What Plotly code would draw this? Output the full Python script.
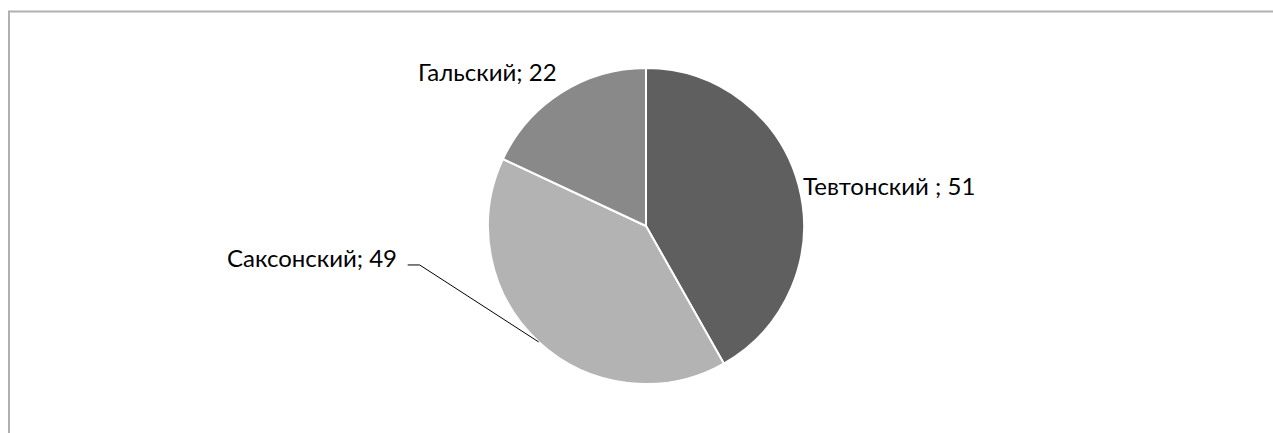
import math
import plotly.graph_objects as go

# ---- data ----
labels = ["Тевтонский ", "Саксонский", "Гальский"]
values = [51, 49, 22]
colors = ["#5f5f5f", "#b3b3b3", "#898989"]

W, H = 1273, 433
CX, CY, R = 646, 226, 158  # pie centre / radius in px

fig = go.Figure(go.Pie(
    labels=labels, values=values, sort=False, direction="clockwise", rotation=0,
    marker=dict(colors=colors, line=dict(color="white", width=2)),
    textinfo="none", hoverinfo="label+value", showlegend=False,
    domain=dict(x=[(CX - R) / W, (CX + R) / W], y=[1 - (CY + R) / H, 1 - (CY - R) / H]),
))

def p(x, y):
    return x / W, 1 - y / H

total = sum(values)
cum = 0
mids = []
for v in values:
    mids.append((cum + v / 2) / total * 2 * math.pi)
    cum += v

def on_circle(a, r):
    return CX + r * math.sin(a), CY - r * math.cos(a)

annotations = []
shapes = []
font = dict(family="Lato, Carlito, 'Open Sans', sans-serif", size=24, color="#000000")

def label(x, y, text, xanchor):
    px, py = p(x, y)
    annotations.append(dict(x=px, y=py, xref="paper", yref="paper", text=text,
                            showarrow=False, xanchor=xanchor, yanchor="middle",
                            font=font, borderpad=0, borderwidth=0))

# Тевтонский
x, y = on_circle(mids[0], R)
label(x + 4, y - 0.5, f"{labels[0]}; {values[0]}", "left")

# Гальский
x, y = on_circle(mids[2], R)
label(x - 4, y - 21.5, f"{labels[2]}; {values[2]}", "right")

# Саксонский with leader line
ex, ey = on_circle(mids[1], R)
lx, ly = ex - 119, ey - 77
for (a, b, c, d) in [(ex, ey, lx, ly), (lx, ly, lx - 12, ly)]:
    x0, y0 = p(a, b)
    x1, y1 = p(c, d)
    shapes.append(dict(type="line", xref="paper", yref="paper", x0=x0, y0=y0, x1=x1, y1=y1,
                       line=dict(color="#000000", width=1)))
label(lx - 23, ly - 7, f"{labels[1]}; {values[1]}", "right")

# chart-area frame (partially cropped)
fx, fy = p(9, 11.5)
shapes.append(dict(type="rect", xref="paper", yref="paper",
                   x0=fx, x1=1.05, y0=-0.05, y1=fy,
                   line=dict(color="#b0b0b0", width=2), fillcolor="rgba(0,0,0,0)", layer="below"))

fig.update_layout(width=W, height=H, margin=dict(l=0, r=0, t=0, b=0),
                  paper_bgcolor="white", plot_bgcolor="white",
                  annotations=annotations, shapes=shapes)
fig.write_html("out.html", config={"displayModeBar": False},
               post_script="document.body.style.margin='0';document.body.style.overflow='hidden';")
